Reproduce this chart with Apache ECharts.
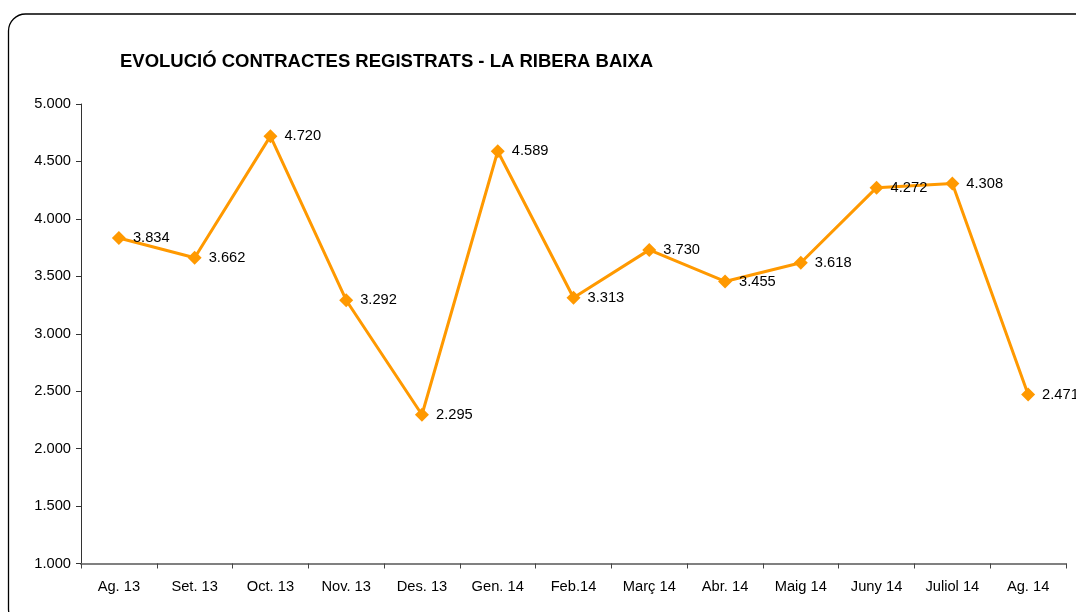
<!DOCTYPE html>
<html><head><meta charset="utf-8">
<script src="https://cdn.jsdelivr.net/npm/echarts@6/dist/echarts.min.js"></script>
<style>html,body{margin:0;padding:0;background:#fff}#c{width:1076px;height:612px}</style>
</head><body><div id="c"></div>
<script>
const categories = ['Ag. 13','Set. 13','Oct. 13','Nov. 13','Des. 13','Gen. 14','Feb.14','Març 14','Abr. 14','Maig 14','Juny 14','Juliol 14','Ag. 14'];
const contracts = [3834, 3662, 4720, 3292, 2295, 4589, 3313, 3730, 3455, 3618, 4272, 4308, 2471];
const titleText = 'EVOLUCIÓ CONTRACTES REGISTRATS - LA RIBERA BAIXA';

function fmt(v){ return String(Math.round(v)).replace(/\B(?=(\d{3})+(?!\d))/g,'.'); }

const chart = echarts.init(document.getElementById('c'), null, {renderer:'canvas'});
const FONT = 'Liberation Sans, Arial, sans-serif';
const FS = 14.7;
chart.setOption({
  animation:false,
  backgroundColor:'#fff',
  title:{text:titleText,left:115,top:47,textStyle:{fontFamily:FONT,fontSize:18.5,fontWeight:'bold',color:'#000'}},
  graphic:[{type:'rect',shape:{x:8.5,y:14,width:1085,height:612,r:17},style:{fill:'none',stroke:'#000',lineWidth:1.3},z:-1}],
  grid:{left:81,right:10,top:104,bottom:48.5},
  xAxis:{type:'category',data:categories,boundaryGap:true,
    axisLine:{lineStyle:{color:'#808080',width:2}},
    axisTick:{show:true,length:5,lineStyle:{color:'#444'}},
    axisLabel:{fontFamily:FONT,fontSize:FS,color:'#000',margin:16}},
  yAxis:{type:'value',min:1000,max:5000,interval:500,
    axisLine:{show:true,lineStyle:{color:'#333',width:1}},
    axisTick:{show:true,length:5,lineStyle:{color:'#333'}},
    splitLine:{show:false},
    axisLabel:{fontFamily:FONT,fontSize:FS,color:'#000',margin:10,formatter:fmt}},
  series:[{type:'line',data:contracts,symbol:'diamond',symbolSize:14,
    lineStyle:{color:'#FF9900',width:3},itemStyle:{color:'#FF9900'},
    label:{show:true,position:'right',distance:7,fontFamily:FONT,fontSize:FS,color:'#000',formatter:p=>fmt(p.value)}}]
});
</script></body></html>
